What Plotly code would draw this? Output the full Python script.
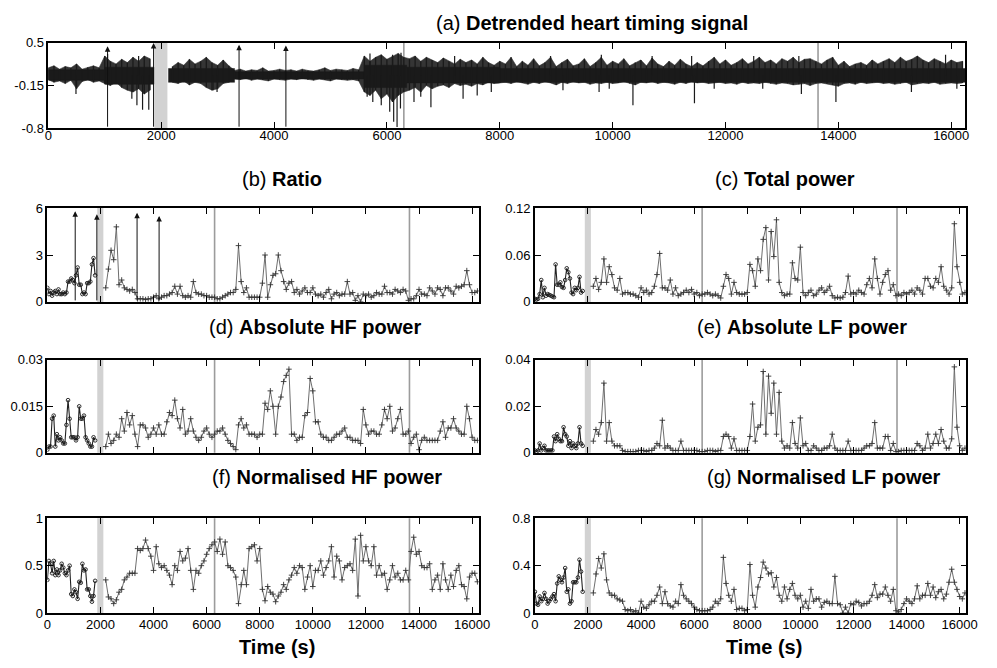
import plotly.graph_objects as go

# ---------------- time grids ----------------
t_pre = list(range(0, 1860, 60))        # before the grey band (circles)
t_post = list(range(2200, 16300, 100))  # after the grey band (crosses)
t_sig = list(range(0, 16300, 100))      # envelope samples of panel (a)

# ---------------- panel (a): detrended heart timing signal ----------------
# per-100 s maximum / minimum of the signal (fringe of the black band)
sig_upper = [
    0.12, 0.15, 0.10, 0.14, 0.12, 0.18, 0.10, 0.13, 0.15, 0.12,
    0.30, 0.22, 0.18, 0.25, 0.20, 0.28, 0.22, 0.30, 0.26,
    None, None, None,
    0.14, 0.20, 0.16, 0.25, 0.18, 0.22, 0.28, 0.20, 0.16, 0.24, 0.15,
    0.08, 0.10, 0.07, 0.09, 0.08, 0.12, 0.07, 0.08, 0.10, 0.08, 0.09, 0.07,
    0.10, 0.08, 0.07, 0.09, 0.12, 0.08, 0.10, 0.09, 0.08, 0.11, 0.09,
    0.30, 0.22, 0.28, 0.32, 0.25, 0.30, 0.34, 0.28,
    0.26, 0.30, 0.22, 0.28, 0.24, 0.20, 0.27, 0.22, 0.18, 0.25, 0.20, 0.24,
    0.18, 0.28, 0.20, 0.16, 0.22,
    0.18, 0.28, 0.14, 0.22, 0.16, 0.26, 0.15, 0.20, 0.28, 0.14,
    0.20, 0.25, 0.15, 0.18, 0.26, 0.14, 0.20, 0.28, 0.16, 0.22,
    0.18, 0.26, 0.15, 0.20, 0.24, 0.15, 0.27, 0.18, 0.14, 0.22,
    0.16, 0.25, 0.18, 0.14, 0.20, 0.15, 0.22, 0.28, 0.18, 0.24,
    0.16, 0.20, 0.26, 0.18, 0.22, 0.28, 0.20, 0.24, 0.18, 0.26,
    0.22, 0.28, 0.20, 0.25, 0.26, 0.22, 0.18, 0.24, 0.28, 0.16,
    0.22, 0.14, 0.18, 0.20, 0.16, 0.24, 0.18, 0.22, 0.26, 0.20,
    0.28, 0.22, 0.25, 0.30, 0.24, 0.20, 0.26, 0.22, 0.18, 0.24,
    0.20, 0.22,
]
sig_lower = [
    -0.06, -0.10, -0.08, -0.12, -0.07, -0.20, -0.09, -0.06, -0.10, -0.08,
    -0.12, -0.15, -0.10, -0.18, -0.22, -0.25, -0.20, -0.28, -0.22,
    None, None, None,
    -0.10, -0.12, -0.08, -0.14, -0.10, -0.12, -0.18, -0.22, -0.20, -0.12, -0.10,
    -0.05, -0.06, -0.04, -0.07, -0.05, -0.06, -0.08, -0.05, -0.06, -0.07, -0.05,
    -0.06, -0.04, -0.06, -0.07, -0.05, -0.06, -0.08, -0.05, -0.06, -0.07, -0.06, -0.08,
    -0.25, -0.30, -0.22, -0.35, -0.28, -0.40, -0.30, -0.25,
    -0.22, -0.18, -0.25, -0.15, -0.20, -0.16, -0.14, -0.18, -0.12, -0.15, -0.13, -0.16,
    -0.12, -0.14, -0.10, -0.12, -0.11,
    -0.10, -0.12, -0.09, -0.11, -0.13, -0.10, -0.12, -0.09, -0.11, -0.14,
    -0.10, -0.12, -0.09, -0.11, -0.10, -0.13, -0.11, -0.12, -0.10, -0.12,
    -0.11, -0.09, -0.12, -0.14, -0.10, -0.11, -0.09, -0.12, -0.10, -0.11,
    -0.13, -0.10, -0.12, -0.09, -0.11, -0.10, -0.12, -0.11, -0.10, -0.12,
    -0.11, -0.13, -0.10, -0.12, -0.11, -0.12, -0.10, -0.12, -0.13, -0.11,
    -0.12, -0.14, -0.13, -0.12, -0.15, -0.12, -0.11, -0.12, -0.14, -0.16,
    -0.12, -0.11, -0.13, -0.10, -0.12, -0.11, -0.10, -0.12, -0.11, -0.13,
    -0.12, -0.10, -0.14, -0.12, -0.11, -0.12, -0.10, -0.13, -0.12, -0.11,
    -0.12, -0.11,
]
# dense core of the band, per stretch: start, end, top, bottom
core_start = [0, 1000, 2130, 3300, 5600, 6350, 8000]
core_end = [1000, 1870, 3300, 5600, 6350, 8000, 16250]
core_top = [0.09, 0.13, 0.11, 0.06, 0.16, 0.13, 0.11]
core_bottom = [-0.07, -0.13, -0.10, -0.05, -0.18, -0.11, -0.10]
# isolated large beats
spike_t = [490, 1480, 1570, 1670, 1780, 2920, 2990, 5650, 5750, 5900, 6050, 6120,
           6180, 6240, 6480, 6600, 6780, 7350, 7600, 7850, 9120, 9760, 9940, 10360,
           11450, 11800, 12660, 13345, 13957, 15295, 16100,
           1050, 1600, 5700, 6100, 6250, 7200, 8900, 9800, 10700, 11400, 12500, 13300, 15900]
spike_v = [-0.28, -0.35, -0.45, -0.52, -0.52, -0.22, -0.25, -0.32, -0.40, -0.45, -0.55, -0.70,
           -0.78, -0.50, -0.40, -0.32, -0.48, -0.35, -0.30, -0.25, -0.22, -0.25, -0.20, -0.45,
           -0.42, -0.20, -0.20, -0.28, -0.40, -0.25, -0.20,
           0.33, 0.30, 0.34, 0.32, 0.35, 0.30, 0.30, 0.32, 0.30, 0.30, 0.30, 0.30, 0.32]

# events
arrow_t = [1050, 1865, 3380, 4210]
arrow_top_a = [0.45, 0.50, 0.47, 0.46]
arrow_top_b = [5.8, 5.6, 5.7, 5.5]
band_t = [1880, 2110]
event_lines = [6300, 13640]

# ---------------- panel (b) Ratio ----------------
ratio_pre = [0.9, 0.5, 0.7, 0.4, 0.6, 0.7, 0.5, 0.8, 0.5, 0.5, 0.6, 0.5, 0.6, 1.3, 1.3, 1.5,
             1.4, 1.2, 1.7, 2.2, 1.1, 1.1, 0.5, 0.6, 0.5, 1.2, 1.2, 1.3, 2.4, 2.8, 1.7]
ratio_post = [
    0.9, 2.1, 3.3, 2.7, 4.8, 1.1, 1.4, 0.9, 0.8, 0.7,
    0.8, 0.6, 0.2, 0.2, 0.2, 0.15, 0.2, 0.2, 0.3, 0.4,
    0.2, 0.3, 0.4, 0.4, 0.5, 0.6, 1.0, 0.5, 1.0, 0.4,
    0.3, 0.4, 0.3, 1.3, 0.6, 0.5, 0.5, 0.4, 0.4, 0.3,
    0.3, 0.3, 0.2, 0.2, 0.3, 0.4, 0.5, 0.6, 0.6, 0.8,
    3.6, 1.3, 0.6, 0.9, 0.3, 0.3, 0.3, 0.3, 0.3, 1.2,
    3.0, 0.3, 1.1, 1.7, 1.8, 3.0, 2.0, 1.3, 0.8, 1.2,
    1.3, 0.6, 0.8, 0.5, 0.7, 0.9, 0.6, 0.6, 0.9, 0.5,
    0.4, 0.5, 0.3, 0.6, 0.8, 0.2, 0.5, 0.6, 0.4, 0.5,
    0.5, 1.3, 0.5, 0.6, 0.1, 0.4, 0.0, 0.5, 0.4, 0.5,
    0.3, 0.4, 0.6, 0.5, 0.5, 1.0, 0.6, 0.6, 0.5, 0.8,
    0.7, 0.6, 0.8, 0.7, 0.1, 0.2, 0.2, 0.4, 0.8, 0.5,
    0.5, 0.4, 0.9, 0.7, 0.5, 0.9, 0.8, 0.4, 0.9, 0.9,
    0.7, 0.5, 1.0, 0.9, 1.0, 1.1, 2.0, 1.1, 0.6, 0.6,
    0.7,
]

# ---------------- panel (c) Total power ----------------
total_pre = [0.004, 0.003, 0.004, 0.010, 0.028, 0.006, 0.018, 0.008, 0.010, 0.009,
             0.008, 0.007, 0.006, 0.048, 0.022, 0.022, 0.025, 0.019, 0.018, 0.028,
             0.043, 0.038, 0.030, 0.012, 0.010, 0.018, 0.015, 0.018, 0.032, 0.012, 0.014]
total_post = [
    0.020, 0.030, 0.016, 0.025, 0.055, 0.025, 0.045, 0.035, 0.018, 0.015,
    0.030, 0.010, 0.012, 0.012, 0.010, 0.010, 0.008, 0.006, 0.018, 0.012,
    0.015, 0.010, 0.012, 0.020, 0.035, 0.062, 0.018, 0.018, 0.015, 0.028,
    0.010, 0.018, 0.008, 0.010, 0.012, 0.015, 0.012, 0.016, 0.010, 0.012,
    0.008, 0.010, 0.010, 0.012, 0.010, 0.008, 0.010, 0.008, 0.005, 0.020,
    0.035, 0.030, 0.010, 0.025, 0.012, 0.010, 0.010, 0.010, 0.012, 0.048,
    0.040, 0.020, 0.055, 0.040, 0.080, 0.095, 0.028, 0.090, 0.058, 0.105,
    0.025, 0.012, 0.008, 0.010, 0.010, 0.050, 0.030, 0.028, 0.070, 0.012,
    0.008, 0.012, 0.015, 0.008, 0.010, 0.015, 0.018, 0.012, 0.015, 0.020,
    0.008, 0.005, 0.006, 0.005, 0.006, 0.012, 0.033, 0.010, 0.012, 0.010,
    0.015, 0.012, 0.010, 0.022, 0.030, 0.018, 0.055, 0.030, 0.010, 0.025,
    0.035, 0.040, 0.015, 0.022, 0.008, 0.010, 0.008, 0.012, 0.010, 0.012,
    0.015, 0.010, 0.018, 0.015, 0.010, 0.030, 0.030, 0.020, 0.018, 0.030,
    0.025, 0.045, 0.020, 0.015, 0.010, 0.018, 0.100, 0.045, 0.025, 0.010,
    0.012,
]

# ---------------- panel (d) Absolute HF power ----------------
hf_pre = [0.001, 0.002, 0.002, 0.011, 0.012, 0.002, 0.006, 0.004, 0.005, 0.004,
          0.003, 0.003, 0.009, 0.017, 0.011, 0.005, 0.005, 0.005, 0.004, 0.005,
          0.015, 0.011, 0.011, 0.012, 0.005, 0.004, 0.003, 0.002, 0.002, 0.005, 0.004]
hf_post = [
    0.002, 0.006, 0.003, 0.004, 0.006, 0.005, 0.011, 0.007, 0.013, 0.009,
    0.012, 0.006, 0.002, 0.009, 0.009, 0.008, 0.005, 0.006, 0.008, 0.006,
    0.009, 0.006, 0.006, 0.010, 0.013, 0.012, 0.017, 0.011, 0.008, 0.014,
    0.006, 0.007, 0.011, 0.007, 0.005, 0.004, 0.005, 0.007, 0.008, 0.006,
    0.005, 0.006, 0.007, 0.007, 0.008, 0.006, 0.004, 0.003, 0.002, 0.001,
    0.009, 0.011, 0.008, 0.009, 0.006, 0.006, 0.006, 0.005, 0.006, 0.006,
    0.016, 0.014, 0.020, 0.015, 0.006, 0.015, 0.018, 0.023, 0.025, 0.027,
    0.006, 0.006, 0.004, 0.005, 0.005, 0.012, 0.013, 0.024, 0.020, 0.010,
    0.010, 0.006, 0.005, 0.005, 0.004, 0.004, 0.005, 0.006, 0.006, 0.007,
    0.008, 0.005, 0.005, 0.004, 0.004, 0.004, 0.003, 0.014, 0.009, 0.006,
    0.007, 0.007, 0.006, 0.006, 0.009, 0.014, 0.011, 0.015, 0.007, 0.008,
    0.011, 0.014, 0.006, 0.006, 0.007, 0.003, 0.005, 0.006, 0.001, 0.004,
    0.005, 0.004, 0.004, 0.004, 0.004, 0.004, 0.007, 0.010, 0.005, 0.008,
    0.008, 0.011, 0.008, 0.007, 0.006, 0.006, 0.015, 0.011, 0.005, 0.004,
    0.004,
]

# ---------------- panel (e) Absolute LF power ----------------
lf_pre = [0.001, 0.0005, 0.001, 0.004, 0.001, 0.002, 0.003, 0.001, 0.001, 0.001,
          0.001, 0.001, 0.007, 0.005, 0.008, 0.006, 0.005, 0.005, 0.011, 0.008,
          0.007, 0.003, 0.005, 0.002, 0.004, 0.003, 0.002, 0.004, 0.011, 0.004, 0.003]
lf_post = [
    0.005, 0.010, 0.008, 0.013, 0.030, 0.005, 0.013, 0.005, 0.003, 0.003,
    0.003, 0.001, 0.0005, 0.0005, 0.0005, 0.0005, 0.0005, 0.001, 0.001, 0.001,
    0.0005, 0.001, 0.001, 0.002, 0.004, 0.003, 0.014, 0.002, 0.003, 0.002,
    0.001, 0.001, 0.001, 0.005, 0.001, 0.001, 0.001, 0.001, 0.001, 0.001,
    0.0005, 0.0005, 0.0005, 0.001, 0.001, 0.001, 0.0005, 0.001, 0.001, 0.007,
    0.008, 0.007, 0.002, 0.006, 0.001, 0.001, 0.001, 0.001, 0.001, 0.007,
    0.021, 0.005, 0.011, 0.012, 0.035, 0.008, 0.033, 0.017, 0.030, 0.008,
    0.026, 0.005, 0.002, 0.003, 0.002, 0.013, 0.004, 0.002, 0.015, 0.003,
    0.004, 0.001, 0.001, 0.003, 0.002, 0.001, 0.001, 0.002, 0.002, 0.003,
    0.008, 0.002, 0.001, 0.001, 0.001, 0.001, 0.005, 0.001, 0.001, 0.001,
    0.001, 0.001, 0.002, 0.003, 0.003, 0.004, 0.013, 0.002, 0.002, 0.002,
    0.007, 0.007, 0.001, 0.004, 0.0005, 0.0005, 0.001, 0.001, 0.001, 0.001,
    0.001, 0.001, 0.004, 0.003, 0.001, 0.002, 0.008, 0.002, 0.004, 0.008,
    0.004, 0.010, 0.005, 0.002, 0.002, 0.006, 0.037, 0.011, 0.003, 0.001,
    0.002,
]

# ---------------- panel (f) Normalised HF power ----------------
nhf_pre = [0.35, 0.55, 0.52, 0.42, 0.55, 0.40, 0.46, 0.40, 0.45, 0.52,
           0.48, 0.42, 0.40, 0.45, 0.50, 0.20, 0.18, 0.25, 0.22, 0.15,
           0.33, 0.32, 0.52, 0.45, 0.46, 0.25, 0.25, 0.18, 0.12, 0.18, 0.34]
nhf_post = [
    0.35, 0.17, 0.15, 0.10, 0.14, 0.22, 0.25, 0.35, 0.38, 0.42,
    0.42, 0.42, 0.68, 0.66, 0.68, 0.77, 0.68, 0.60, 0.45, 0.70,
    0.52, 0.48, 0.50, 0.45, 0.40, 0.30, 0.50, 0.45, 0.65, 0.55,
    0.58, 0.68, 0.45, 0.25, 0.45, 0.42, 0.50, 0.55, 0.62, 0.68,
    0.72, 0.75, 0.65, 0.78, 0.62, 0.75, 0.50, 0.48, 0.45, 0.38,
    0.10, 0.30, 0.45, 0.30, 0.68, 0.70, 0.72, 0.55, 0.68, 0.25,
    0.13, 0.28, 0.22, 0.20, 0.12, 0.18, 0.22, 0.30, 0.25, 0.35,
    0.40, 0.48, 0.42, 0.50, 0.48, 0.25, 0.38, 0.50, 0.28, 0.45,
    0.45, 0.55, 0.40, 0.48, 0.55, 0.70, 0.38, 0.60, 0.55, 0.35,
    0.48, 0.50, 0.52, 0.45, 0.78, 0.18, 0.82, 0.55, 0.70, 0.55,
    0.50, 0.70, 0.40, 0.50, 0.40, 0.42, 0.25, 0.35, 0.50, 0.38,
    0.42, 0.35, 0.35, 0.45, 0.35, 0.65, 0.80, 0.62, 0.65, 0.50,
    0.48, 0.48, 0.52, 0.25, 0.35, 0.40, 0.25, 0.52, 0.35, 0.25,
    0.40, 0.28, 0.45, 0.50, 0.30, 0.28, 0.15, 0.38, 0.42, 0.42,
    0.33,
]

# ---------------- panel (g) Normalised LF power ----------------
nlf_pre = [0.18, 0.08, 0.07, 0.14, 0.10, 0.12, 0.17, 0.12, 0.08, 0.10,
           0.12, 0.14, 0.16, 0.10, 0.25, 0.31, 0.28, 0.26, 0.30, 0.38,
           0.18, 0.20, 0.08, 0.10, 0.26, 0.26, 0.26, 0.30, 0.45, 0.35, 0.18]
nlf_post = [
    0.17, 0.33, 0.46, 0.38, 0.50, 0.28, 0.17, 0.15, 0.15, 0.12,
    0.11, 0.10, 0.03, 0.02, 0.03, 0.01, 0.02, 0.00, 0.10, 0.05,
    0.04, 0.07, 0.10, 0.10, 0.15, 0.22, 0.08, 0.18, 0.08, 0.06,
    0.05, 0.10, 0.08, 0.24, 0.15, 0.12, 0.10, 0.08, 0.05, 0.03,
    0.02, 0.02, 0.02, 0.02, 0.03, 0.05, 0.10, 0.08, 0.12, 0.47,
    0.25, 0.15, 0.10, 0.20, 0.03, 0.04, 0.04, 0.02, 0.03, 0.41,
    0.15, 0.05, 0.22, 0.30, 0.43, 0.38, 0.33, 0.34, 0.22, 0.30,
    0.15, 0.10, 0.22, 0.12, 0.20, 0.25, 0.15, 0.12, 0.15, 0.05,
    0.10, 0.04, 0.20, 0.10, 0.12, 0.12, 0.05, 0.09, 0.10, 0.08,
    0.08, 0.31, 0.08, 0.07, 0.00, 0.05, 0.00, 0.08, 0.07, 0.10,
    0.09, 0.06, 0.08, 0.08, 0.10, 0.15, 0.24, 0.13, 0.16, 0.16,
    0.22, 0.15, 0.10, 0.20, 0.02, 0.01, 0.03, 0.08, 0.12, 0.10,
    0.08, 0.12, 0.23, 0.12, 0.15, 0.15, 0.25, 0.15, 0.22, 0.13,
    0.18, 0.20, 0.12, 0.16, 0.26, 0.37, 0.26, 0.20, 0.14, 0.12,
    0.17,
]

# ---------------- panel specs ----------------
panels = [
    ("b", ratio_pre, ratio_post, [0, 6], [0, 3, 6], ["0", "3", "6"], "(b) <b>Ratio</b>", (282.5, 176)),
    ("c", total_pre, total_post, [0, 0.12], [0, 0.06, 0.12], ["0", "0.06", "0.12"], "(c) <b>Total power</b>", (793, 176)),
    ("d", hf_pre, hf_post, [0, 0.03], [0, 0.015, 0.03], ["0", "0.015", "0.03"], "(d) <b>Absolute HF power</b>", (316, 327)),
    ("e", lf_pre, lf_post, [0, 0.04], [0, 0.02, 0.04], ["0", "0.02", "0.04"], "(e) <b>Absolute LF power</b>", (810, 327)),
    ("f", nhf_pre, nhf_post, [0, 1], [0, 0.5, 1], ["0", "0.5", "1"], "(f) <b>Normalised HF power</b>", (328, 481)),
    ("g", nlf_pre, nlf_post, [0, 0.8], [0, 0.4, 0.8], ["0", "0.4", "0.8"], "(g) <b>Normalised LF power</b>", (833, 481)),
]
x_ticks = [0, 2000, 4000, 6000, 8000, 10000, 12000, 14000, 16000]
x_range = [0, 16250]

W, H = 997, 668
def fx(px): return px / W
def fy(py): return 1 - py / H

dom_px = {
    "a": (45, 976, 36.7, 124),
    "b": (44, 482, 205.7, 301.7), "c": (539, 977, 205.7, 301.7),
    "d": (44, 482, 361, 456), "e": (539, 977, 361, 456),
    "f": (44, 482, 523, 620), "g": (539, 977, 523, 620),
}
axis_idx = {"a": 1, "b": 2, "c": 3, "d": 4, "e": 5, "f": 6, "g": 7}

FONT = "Liberation Sans, Arial, Helvetica, sans-serif"
INK = "#1a1a1a"
fig = go.Figure()

# ---- panel (a) traces ----
# fringe between the per-100 s max and min
seg, segs = [], []
for ti, lo, hi in zip(t_sig, sig_lower, sig_upper):
    if lo is None or hi is None:
        if seg:
            segs.append(seg)
            seg = []
    else:
        seg.append((ti, lo, hi))
if seg:
    segs.append(seg)
for s in segs:
    xs = [p[0] for p in s] + [p[0] for p in reversed(s)]
    ys = [p[2] for p in s] + [p[1] for p in reversed(s)]
    fig.add_trace(go.Scatter(x=xs, y=ys, fill="toself", fillcolor="#353535",
                             line=dict(color="#353535", width=0.6), mode="lines",
                             xaxis="x", yaxis="y", showlegend=False, hoverinfo="skip"))
# dense core
for c0, c1, ct, cb in zip(core_start, core_end, core_top, core_bottom):
    fig.add_trace(go.Scatter(x=[c0, c1, c1, c0, c0], y=[ct, ct, cb, cb, ct], fill="toself",
                             fillcolor=INK, line=dict(color=INK, width=0.5), mode="lines",
                             xaxis="x", yaxis="y", showlegend=False, hoverinfo="skip"))
# needles at each sample
nx, ny = [], []
for ti, lo, hi in zip(t_sig, sig_lower, sig_upper):
    if lo is None or hi is None:
        continue
    nx += [ti, ti, None]
    ny += [lo, hi, None]
fig.add_trace(go.Scatter(x=nx, y=ny, mode="lines", line=dict(color=INK, width=1.3),
                         xaxis="x", yaxis="y", showlegend=False, hoverinfo="skip"))
# isolated large beats
sx, sy = [], []
for ti, v in zip(spike_t, spike_v):
    sx += [ti, ti, None]
    sy += [0, v, None]
fig.add_trace(go.Scatter(x=sx, y=sy, mode="lines", line=dict(color=INK, width=1.2),
                         xaxis="x", yaxis="y", showlegend=False, hoverinfo="skip"))

# ---- panels (b)-(g) traces ----
for key, pre, post, yr, yt, ytt, title, tpos in panels:
    assert len(pre) == len(t_pre), (key, len(pre))
    assert len(post) == len(t_post), (key, len(post))
    k = axis_idx[key]
    xa, ya = f"x{k}", f"y{k}"
    fig.add_trace(go.Scatter(x=t_pre, y=pre, mode="lines+markers",
                             line=dict(color="#222222", width=1.1),
                             marker=dict(symbol="circle-open", size=3.6, color="#1a1a1a",
                                         line=dict(width=0.9, color="#1a1a1a")),
                             xaxis=xa, yaxis=ya, showlegend=False))
    fig.add_trace(go.Scatter(x=t_post, y=post, mode="lines+markers",
                             line=dict(color="#6e6e6e", width=1),
                             marker=dict(symbol="cross-thin", size=4, color="#333333",
                                         line=dict(width=0.9, color="#333333")),
                             xaxis=xa, yaxis=ya, showlegend=False))

# ---- axes ----
layout = dict(width=W, height=H, margin=dict(l=0, r=0, t=0, b=0),
              paper_bgcolor="white", plot_bgcolor="white",
              font=dict(family=FONT, size=13, color="black"), showlegend=False)

def axis_common():
    return dict(showline=True, linecolor="black", linewidth=1.5, mirror="ticks",
                ticks="inside", ticklen=6, tickwidth=1, tickcolor="black",
                showgrid=False, zeroline=False, tickfont=dict(family=FONT, size=13, color="black"))

yspec = {"a": ([-0.8, 0.5], [-0.8, -0.15, 0.5], ["-0.8", "-0.15", "0.5"])}
for key, pre, post, yr, yt, ytt, title, tpos in panels:
    yspec[key] = (yr, yt, ytt)

for key, k in axis_idx.items():
    l, r, t, b = dom_px[key]
    xname = "xaxis" if k == 1 else f"xaxis{k}"
    yname = "yaxis" if k == 1 else f"yaxis{k}"
    xa = axis_common()
    xa.update(domain=[fx(l), fx(r)], range=x_range, tickvals=x_ticks,
              anchor="y" if k == 1 else f"y{k}")
    if key in ("a", "f", "g"):
        xa.update(ticktext=[str(v) for v in x_ticks], showticklabels=True,
                  ticklabelstandoff=-6 if key == "a" else -1)
    else:
        xa.update(showticklabels=False)
    ya = axis_common()
    yr, yt, ytt = yspec[key]
    ya.update(domain=[fy(b), fy(t)], range=yr, tickvals=yt, ticktext=ytt,
              anchor="x" if k == 1 else f"x{k}")
    layout[xname] = xa
    layout[yname] = ya

# ---- event shapes ----
shapes = []
for key, k in axis_idx.items():
    xr = "x" if k == 1 else f"x{k}"
    yr = ("y" if k == 1 else f"y{k}") + " domain"
    shapes.append(dict(type="rect", xref=xr, yref=yr, x0=band_t[0], x1=band_t[1], y0=0, y1=1,
                       fillcolor="#d2d2d2", line=dict(width=0), layer="below"))
    for el in event_lines:
        shapes.append(dict(type="line", xref=xr, yref=yr, x0=el, x1=el, y0=0, y1=1,
                           line=dict(color="#9c9c9c", width=1.6), layer="below"))
layout["shapes"] = shapes

# ---- annotations: titles, arrows, axis labels ----
ann = []
ann.append(dict(text="(a) <b>Detrended heart timing signal</b>", x=fx(596.5), y=fy(16),
                xref="paper", yref="paper", xanchor="center", yanchor="middle", showarrow=False,
                font=dict(family=FONT, size=20, color="black")))
for key, pre, post, yr, yt, ytt, title, tpos in panels:
    ann.append(dict(text=title, x=fx(tpos[0]), y=fy(tpos[1]), xref="paper", yref="paper",
                    xanchor="center", yanchor="middle", showarrow=False,
                    font=dict(family=FONT, size=20, color="black")))
for px_x in (277, 772):
    ann.append(dict(text="<b>Time (s)</b>", x=fx(px_x), y=fy(655), xref="paper", yref="paper",
                    xanchor="center", yanchor="middle", showarrow=False,
                    font=dict(family=FONT, size=20, color="black")))
for ti, top in zip(arrow_t, arrow_top_a):
    ann.append(dict(text="", x=ti, y=top, ax=ti, ay=-0.8, xref="x", yref="y", axref="x", ayref="y",
                    showarrow=True, arrowhead=2, arrowsize=1.1, arrowwidth=1, arrowcolor="#111111"))
for ti, top in zip(arrow_t, arrow_top_b):
    ann.append(dict(text="", x=ti, y=top, ax=ti, ay=0, xref="x2", yref="y2", axref="x2", ayref="y2",
                    showarrow=True, arrowhead=2, arrowsize=1.1, arrowwidth=1, arrowcolor="#111111"))
layout["annotations"] = ann

fig.update_layout(**layout)
fig.write_html("out.html")
